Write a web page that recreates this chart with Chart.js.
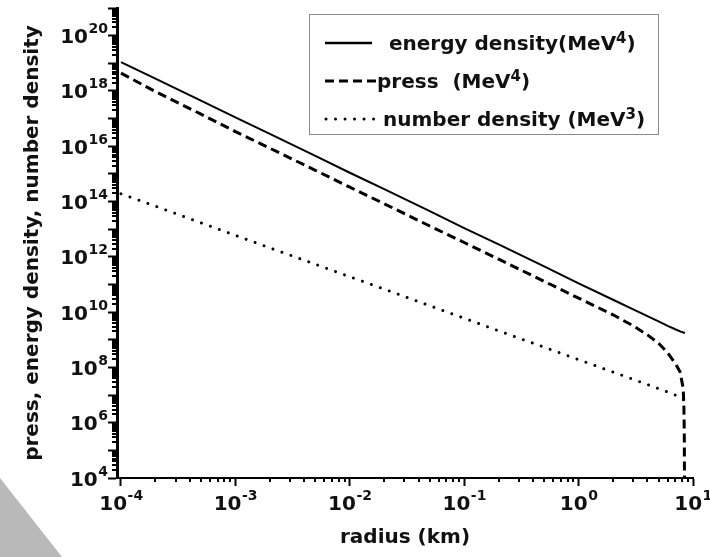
<!DOCTYPE html>
<html><head><meta charset="utf-8">
<script src="https://cdn.jsdelivr.net/npm/chart.js@4/dist/chart.umd.min.js"></script>
<style>html,body{margin:0;padding:0;background:#fff;}canvas{display:block;}</style>
</head><body>
<canvas id="c" width="710" height="557"></canvas>
<script>
// ---- data (radius in km) ----
const energyRadius = [1e-4, 2e-4, 5e-4, 1e-3, 2e-3, 5e-3, 1e-2, 2e-2, 5e-2, 0.1, 0.2, 0.5, 1, 2, 3, 4, 5, 6, 7, 8, 8.5];
const energyDensity = [1.1e19, 2.8e18, 4.5e17, 1.1e17, 2.8e16, 4.5e15, 1.1e15, 2.8e14, 4.5e13, 1.1e13, 2.8e12, 4.5e11, 1.1e11, 2.8e10, 1.25e10, 7.2e9, 4.6e9, 3.2e9, 2.4e9, 1.9e9, 1.75e9];

const pressRadius = [1e-4, 2e-4, 5e-4, 1e-3, 2e-3, 5e-3, 1e-2, 2e-2, 5e-2, 0.1, 0.2, 0.5, 1, 2, 3, 4, 5, 6, 7, 7.7, 8.2, 8.3, 8.36, 8.4, 8.42, 8.43];
const pressValues = [4.4e18, 9.5e17, 1.45e17, 3.4e16, 8.5e15, 1.35e15, 3.3e14, 8.3e13, 1.3e13, 3.3e12, 8.2e11, 1.3e11, 3.2e10, 8e9, 3.2e9, 1.5e9, 7.5e8, 3.4e8, 1.4e8, 6.9e7, 1.8e7, 6e6, 1.5e6, 2e5, 1e4, 1e3];

const numberRadius = [1e-4, 2e-4, 5e-4, 1e-3, 2e-3, 5e-3, 1e-2, 2e-2, 5e-2, 0.1, 0.2, 0.5, 1, 2, 3, 4, 5, 6, 7, 8, 8.35];
const numberDensity = [1.9e14, 6.8e13, 1.7e13, 6e12, 2.1e12, 5.4e11, 1.9e11, 6.8e10, 1.7e10, 6e9, 2.1e9, 5.4e8, 1.9e8, 6.8e7, 3.7e7, 2.4e7, 1.7e7, 1.3e7, 1.0e7, 7.5e6, 6.5e6];

const seriesNames = ['energy density', 'press', 'number density'];
const seriesUnits = ['4', '4', '3'];
const xTickExponents = [-4, -3, -2, -1, 0, 1];
const yTickExponents = [4, 6, 8, 10, 12, 14, 16, 18, 20];
const yDecades = [4,5,6,7,8,9,10,11,12,13,14,15,16,17,18,19,20,21];

// ---- helpers ----
const toXY = (xs, ys) => xs.map((x, i) => ({x: x, y: ys[i]}));
const FAMILY = '"DejaVu Sans", "Liberation Sans", sans-serif';
const MAIN_FONT = 'bold 20px ' + FAMILY;
const SUP_FONT = 'bold 14px ' + FAMILY;
const TXT = '#111';

const bgPlugin = {
  id: 'bg',
  beforeDraw(chart) {
    const ctx = chart.ctx;
    ctx.save();
    ctx.fillStyle = '#fff';
    ctx.fillRect(0, 0, chart.width, chart.height);
    ctx.fillStyle = '#b9b9b9';
    ctx.beginPath();
    ctx.moveTo(0, 478); ctx.lineTo(62, 557); ctx.lineTo(0, 557); ctx.closePath();
    ctx.fill();
    ctx.restore();
  }
};

const minorTicks = {
  id: 'minorTicks',
  afterDraw(chart) {
    const ctx = chart.ctx, xs = chart.scales.x, ys = chart.scales.y;
    const ca = chart.chartArea;
    ctx.save();
    ctx.strokeStyle = '#000';
    ctx.lineWidth = 2;
    ctx.beginPath();
    for (let e = -5; e <= 0; e++) {
      for (let k = 2; k <= 9; k++) {
        const v = k * Math.pow(10, e);
        if (v < xs.min || v > xs.max) continue;
        const px = Math.round(xs.getPixelForValue(v));
        ctx.moveTo(px, ca.bottom); ctx.lineTo(px, ca.bottom + 4);
      }
    }
    for (const e of yDecades) {
      for (let k = 2; k <= 9; k++) {
        const v = k * Math.pow(10, e);
        if (v < ys.min || v > ys.max) continue;
        const py = Math.round(ys.getPixelForValue(v));
        ctx.moveTo(ca.left - 5, py); ctx.lineTo(ca.left, py);
      }
    }
    ctx.stroke();
    ctx.restore();
  }
};

// power-of-ten tick labels ("10" with a raised exponent), placed with the scales
function powerLabelWidth(ctx, exp) {
  ctx.font = MAIN_FONT; const a = ctx.measureText('10').width;
  ctx.font = SUP_FONT; const b = ctx.measureText(String(exp)).width;
  return [a, b];
}
function drawPower(ctx, x, baseline, exp) {
  const [a] = powerLabelWidth(ctx, exp);
  ctx.font = MAIN_FONT; ctx.fillText('10', x, baseline);
  ctx.font = SUP_FONT; ctx.fillText(String(exp), x + a + 0.5, baseline - 10);
}
const powerTicks = {
  id: 'powerTicks',
  afterDraw(chart) {
    const ctx = chart.ctx, xs = chart.scales.x, ys = chart.scales.y;
    ctx.save();
    ctx.fillStyle = TXT;
    ctx.textAlign = 'left';
    ctx.textBaseline = 'alphabetic';
    for (const e of xTickExponents) {
      const px = xs.getPixelForValue(Math.pow(10, e));
      const [a, b] = powerLabelWidth(ctx, e);
      drawPower(ctx, px - (a + b) / 2, 510, e);
    }
    for (const e of yTickExponents) {
      const py = ys.getPixelForValue(Math.pow(10, e));
      const [a, b] = powerLabelWidth(ctx, e);
      drawPower(ctx, 108 - (a + b + 0.5), py + 7.5, e);
    }
    ctx.restore();
  }
};

function drawRich(ctx, x, baseline, parts) {
  for (const p of parts) {
    ctx.font = p.sup ? 'bold 15px ' + FAMILY : MAIN_FONT;
    ctx.fillText(p.t, x, p.sup ? baseline - 7 : baseline);
    x += ctx.measureText(p.t).width;
  }
}

const boxLegend = {
  id: 'boxLegend',
  afterDraw(chart) {
    const ctx = chart.ctx, ds = chart.data.datasets;
    ctx.save();
    ctx.fillStyle = '#fff';
    ctx.fillRect(309, 14, 349, 120);
    ctx.strokeStyle = '#8a8a8a';
    ctx.lineWidth = 1;
    ctx.strokeRect(309.5, 14.5, 349, 120);
    ctx.strokeStyle = '#000';
    ctx.lineWidth = ds[0].borderWidth + 0.5;
    ctx.setLineDash([]);
    ctx.beginPath(); ctx.moveTo(325, 43); ctx.lineTo(372, 43); ctx.stroke();
    ctx.lineWidth = ds[1].borderWidth;
    ctx.setLineDash(ds[1].borderDash);
    ctx.beginPath(); ctx.moveTo(325, 81); ctx.lineTo(376, 81); ctx.stroke();
    ctx.lineWidth = ds[2].borderWidth;
    ctx.lineCap = 'round';
    ctx.setLineDash(ds[2].borderDash);
    ctx.beginPath(); ctx.moveTo(326, 119); ctx.lineTo(378, 119); ctx.stroke();
    ctx.setLineDash([]);
    ctx.fillStyle = TXT;
    ctx.textBaseline = 'alphabetic';
    ctx.textAlign = 'left';
    drawRich(ctx, 389, 50, [{t: seriesNames[0] + '(MeV'}, {t: seriesUnits[0], sup: true}, {t: ')'}]);
    drawRich(ctx, 377, 88, [{t: seriesNames[1] + '  (MeV'}, {t: seriesUnits[1], sup: true}, {t: ')'}]);
    drawRich(ctx, 383, 126, [{t: seriesNames[2] + ' (MeV'}, {t: seriesUnits[2], sup: true}, {t: ')'}]);
    ctx.restore();
  }
};

const titleFont = {family: FAMILY, size: 20, weight: 'bold'};

new Chart(document.getElementById('c'), {
  type: 'line',
  data: {
    datasets: [
      {label: seriesNames[0], data: toXY(energyRadius, energyDensity), borderColor: '#000', borderWidth: 2, pointRadius: 0, fill: false, tension: 0},
      {label: seriesNames[1], data: toXY(pressRadius, pressValues), borderColor: '#000', borderWidth: 3, borderDash: [9, 5], pointRadius: 0, fill: false, tension: 0},
      {label: seriesNames[2], data: toXY(numberRadius, numberDensity), borderColor: '#000', borderWidth: 3, borderDash: [0.01, 9.5], borderCapStyle: 'round', pointRadius: 0, fill: false, tension: 0}
    ]
  },
  options: {
    responsive: false,
    animation: false,
    devicePixelRatio: 1,
    layout: {padding: {top: 8, right: 17, left: 0, bottom: 0}},
    plugins: {legend: {display: false}, tooltip: {enabled: false}},
    scales: {
      x: {
        type: 'logarithmic', min: 9.23e-5, max: 10,
        afterBuildTicks: s => { s.ticks = xTickExponents.map(e => ({value: Math.pow(10, e)})); },
        afterFit: s => { s.height = 79; s.paddingLeft = 0; s.paddingRight = 0; },
        ticks: {display: false, autoSkip: false, maxRotation: 0, minRotation: 0},
        grid: {drawOnChartArea: false, drawTicks: true, tickLength: 8, tickWidth: 2, tickColor: '#000'},
        border: {display: true, color: '#000', width: 2},
        title: {display: true, text: 'radius (km)', color: TXT, font: titleFont, padding: {top: 0, bottom: 7}}
      },
      y: {
        type: 'logarithmic', min: 1e4, max: 1e21,
        afterBuildTicks: s => { s.ticks = yDecades.map(e => ({value: Math.pow(10, e)})); },
        afterFit: s => { s.width = 117; s.paddingTop = 0; s.paddingBottom = 0; },
        ticks: {display: false, autoSkip: false},
        grid: {drawOnChartArea: false, drawTicks: true, tickLength: 9, tickWidth: 2, tickColor: '#000'},
        border: {display: true, color: '#000', width: 3},
        title: {display: true, text: 'press, energy density, number density', color: TXT, font: titleFont, padding: {top: 21, bottom: 0}}
      }
    }
  },
  plugins: [bgPlugin, minorTicks, powerTicks, boxLegend]
});
</script>
</body></html>
